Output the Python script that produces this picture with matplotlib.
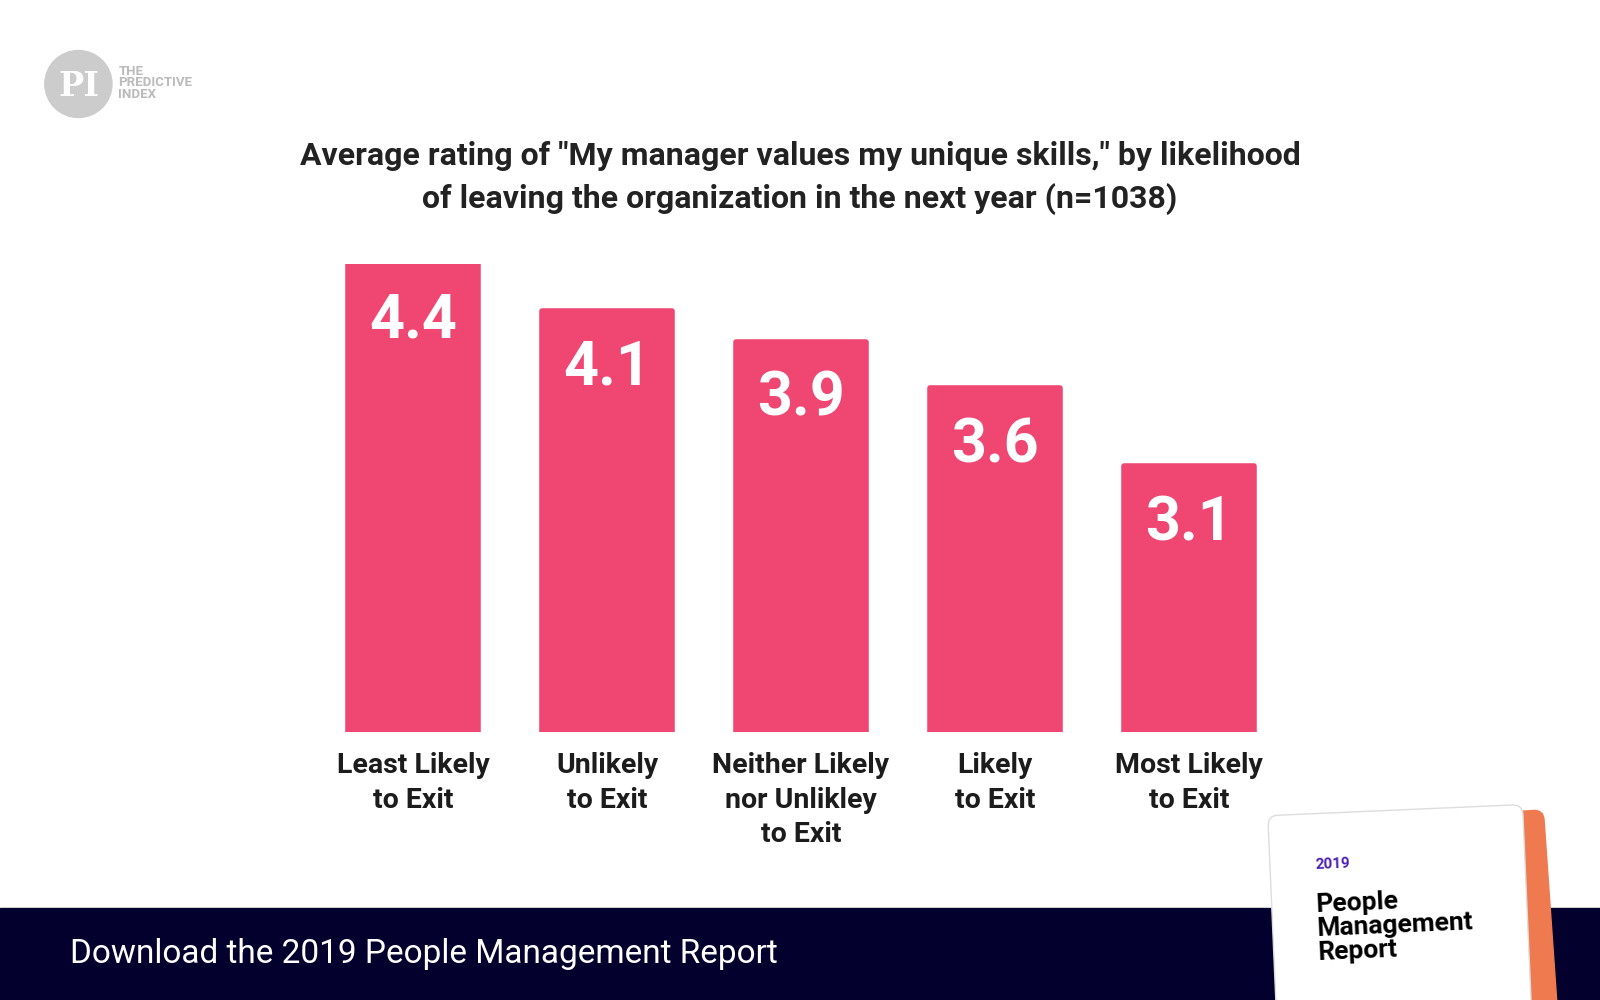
import matplotlib
matplotlib.use("Agg")
import matplotlib.pyplot as plt
from matplotlib.patches import Rectangle, Ellipse, FancyBboxPatch
import matplotlib.transforms as mtrans

plt.rcParams['font.family'] = ['Roboto', 'DejaVu Sans']

categories = ["Least Likely\nto Exit", "Unlikely\nto Exit", "Neither Likely\nnor Unlikley\nto Exit",
              "Likely\nto Exit", "Most Likely\nto Exit"]
values = [4.4, 4.1, 3.9, 3.6, 3.1]
title = 'Average rating of "My manager values my unique skills," by likelihood\nof leaving the organization in the next year (n=1038)'
pink = "#ef4672"
navy = "#03002e"

fig = plt.figure(figsize=(16, 10), dpi=100)
fig.patch.set_facecolor("white")

ax = fig.add_axes([316/1600, 0.268, (1286-316)/1600, 0.468])
x = range(len(values))
ax.bar(x, [v - 1.39 for v in values], bottom=1.39, width=0.67, color=pink,
       edgecolor=pink, linewidth=4, joinstyle="round")
for i, v in zip(x, values):
    ax.text(i, v - 0.18, f"{v}", ha="center", va="top", color="white",
            fontsize=44, fontweight="bold")
ax.set_xlim(-0.5, 4.5)
ax.set_ylim(1.39, 4.4)
ax.axis("off")
for i, c in zip(x, categories):
    ax.text(i, 1.39 - 0.13, c, ha="center", va="top", fontsize=20.5,
            fontweight="bold", color="#1c1c1c", linespacing=1.35)

fig.text(0.5, 0.822, title, ha="center", va="center", fontsize=23,
         fontweight="bold", color="#222222", linespacing=1.45)

# footer band
fig.add_artist(Rectangle((0, 0), 1, 0.092, transform=fig.transFigure, color=navy, zorder=1))
fig.text(0.044, 0.046, "Download the 2019 People Management Report", color="white",
         fontsize=24, va="center", ha="left", zorder=2)

# report card (pixel coordinates)
orange = FancyBboxPatch((1290, -20), 260, 200, boxstyle="round,pad=0,rounding_size=10",
                        color="#f07a4f", transform=mtrans.Affine2D().rotate_deg_around(1400, 90, 4), zorder=3)
fig.add_artist(orange)
card = FancyBboxPatch((1272, -30), 255, 220, boxstyle="round,pad=0,rounding_size=10",
                      facecolor="white", edgecolor="#dddddd", linewidth=1,
                      transform=mtrans.Affine2D().rotate_deg_around(1400, 90, 2.5), zorder=4)
fig.add_artist(card)
fig.text(0.822, 0.131, "2019", color="#4b1fb8", fontsize=11, fontweight="bold", zorder=5, rotation=2.5)
fig.text(0.822, 0.04, "People\nManagement\nReport", color="black", fontsize=19,
         fontweight="bold", zorder=5, rotation=2.5, linespacing=1.0)

# logo
fig.add_artist(Ellipse((0.049, 0.916), 0.042, 0.067, transform=fig.transFigure, color="#cccccc"))
fig.text(0.049, 0.914, "PI", color="white", fontsize=24, fontweight="bold",
         family="DejaVu Serif", ha="center", va="center")
fig.text(0.074, 0.917, "THE\nPREDICTIVE\nINDEX", color="#bbbbbb", fontsize=9.5,
         fontweight="bold", va="center", ha="left", linespacing=0.85)

fig.savefig("out.png", dpi=100)
